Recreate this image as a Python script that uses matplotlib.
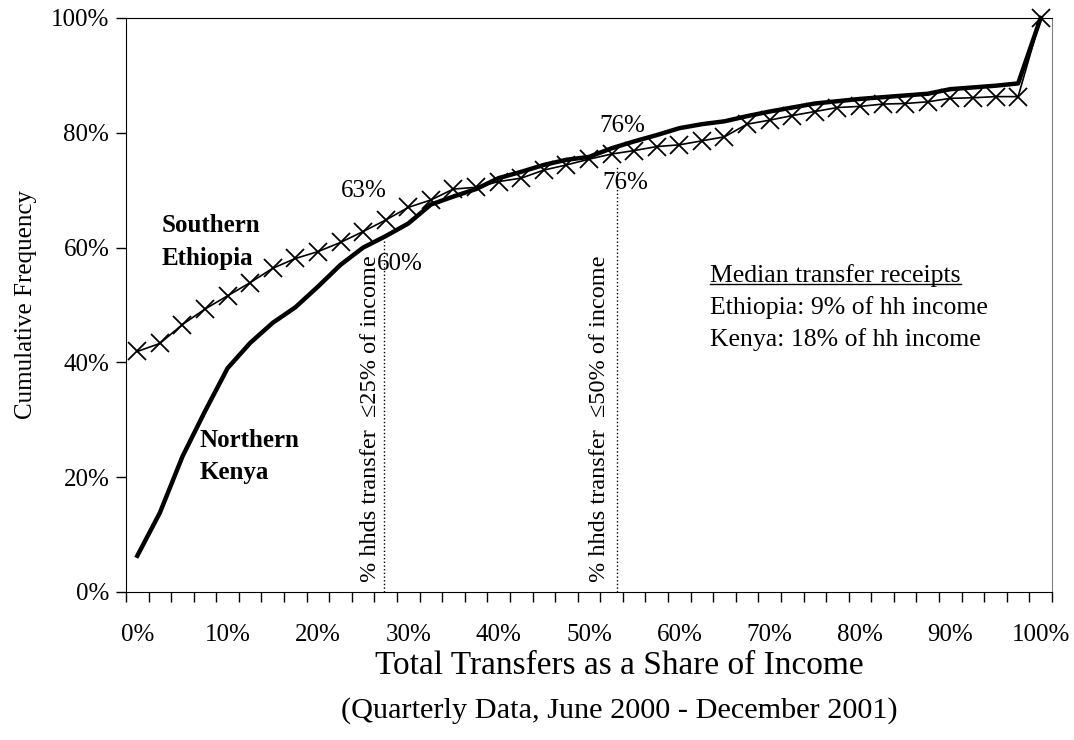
import matplotlib
matplotlib.use("Agg")
import matplotlib.pyplot as plt
from matplotlib.lines import Line2D

plt.rcParams["font.family"] = ["Liberation Serif", "DejaVu Serif"]

# Category axis: transfer share of income (2.5% steps)
share = [0, 2.5, 5, 7.5, 10, 12.5, 15, 17.5, 20, 22.5,
         25, 27.5, 30, 32.5, 35, 37.5, 40, 42.5, 45, 47.5,
         50, 52.5, 55, 57.5, 60, 62.5, 65, 67.5, 70, 72.5,
         75, 77.5, 80, 82.5, 85, 87.5, 90, 92.5, 95, 97.5, 100]

# Cumulative frequency (%)
kenya = [6.3, 13.8, 23.6, 31.5, 39.0, 43.4, 46.9, 49.6, 53.2, 57.0,
         60.0, 62.0, 64.2, 67.5, 68.9, 70.2, 72.1, 73.2, 74.4, 75.3,
         75.8, 77.3, 78.5, 79.6, 80.8, 81.5, 82.0, 82.9, 83.7, 84.4,
         85.1, 85.5, 85.9, 86.2, 86.5, 86.8, 87.6, 87.9, 88.2, 88.6, 100.0]

ethiopia = [41.9, 43.3, 46.6, 49.3, 51.6, 53.9, 56.4, 58.1, 59.3, 60.9,
            62.8, 64.8, 67.0, 68.3, 70.2, 70.5, 71.5, 72.1, 73.5, 74.4,
            75.4, 76.3, 76.9, 77.6, 77.9, 78.6, 79.3, 81.5, 82.2, 83.0,
            83.7, 84.4, 84.6, 85.0, 85.1, 85.4, 86.0, 86.1, 86.3, 86.3, 100.0]

tick_labels = ["0%", "10%", "20%", "30%", "40%", "50%",
               "60%", "70%", "80%", "90%", "100%"]
y_ticks = [0, 20, 40, 60, 80, 100]

FS = 18

fig = plt.figure(figsize=(10.74, 7.4), dpi=100)
ax = fig.add_axes([0.1173, 0.2, 0.8622, 0.7757])

ax.plot(share, kenya, color="black", lw=3.2, solid_joinstyle="round",
        clip_on=False)
ax.plot(share, ethiopia, color="black", lw=1.2, marker="x",
        markersize=12.5, markeredgewidth=1.3, clip_on=False)

step = share[1] - share[0]
ax.set_xlim(share[0] - step / 2, share[-1] + step / 2)
ax.set_ylim(0, 100)

# ticks between categories, labels every 4th category
bounds = [s - step / 2 for s in share] + [share[-1] + step / 2]
ax.set_xticks(bounds, minor=True)
ax.set_xticks(share[::4], tick_labels)
ax.tick_params(axis="x", which="major", length=0, pad=23, labelsize=FS)
ax.tick_params(axis="x", which="minor", length=7, width=1, direction="out")
ax.set_yticks(y_ticks, [f"{v}%" for v in y_ticks])
ax.tick_params(axis="y", length=7, width=1, pad=5, labelsize=FS)

for s in ["left", "bottom", "top"]:
    ax.spines[s].set_color("black")
ax.spines["right"].set_color("gray")

ax.set_ylabel("Cumulative Frequency", fontsize=FS, labelpad=10)

fig.text(0.577, 0.100, "Total Transfers as a Share of Income",
         ha="center", va="center", fontsize=24)
fig.text(0.577, 0.040, "(Quarterly Data, June 2000 - December 2001)",
         ha="center", va="center", fontsize=21.8)

# threshold lines
ax.plot([27.3, 27.3], [0, 61.1], color="black", lw=1, ls=":")
ax.plot([53.1, 53.1], [0, 74.1], color="black", lw=1, ls=":")
ax.text(25.8, 1.7, "% hhds transfer  \u226425% of income", rotation=90,
        ha="center", va="bottom", fontsize=17.5)
ax.text(51.2, 1.7, "% hhds transfer  \u226450% of income", rotation=90,
        ha="center", va="bottom", fontsize=17.5)

ax.text(25.1, 69.9, "63%", ha="center", va="center", fontsize=FS)
ax.text(29.1, 57.1, "60%", ha="center", va="center", fontsize=FS)
ax.text(53.65, 81.1, "76%", ha="center", va="center", fontsize=FS)
ax.text(54.0, 71.3, "76%", ha="center", va="center", fontsize=FS)

ax.text(2.75, 60.9, "Southern\nEthiopia", ha="left", va="center",
        fontsize=FS, fontweight="bold", linespacing=1.55)
ax.text(6.9, 23.6, "Northern\nKenya", ha="left", va="center",
        fontsize=FS, fontweight="bold", linespacing=1.55)

head = ax.text(63.45, 55.2, "Median transfer receipts", ha="left",
               va="center", fontsize=18.5)
ax.text(63.45, 49.5, "Ethiopia: 9% of hh income", ha="left",
        va="center", fontsize=18.5)
ax.text(63.45, 43.9, "Kenya: 18% of hh income", ha="left",
        va="center", fontsize=18.5)

# underline the heading
fig.canvas.draw()
bb = head.get_window_extent().transformed(fig.transFigure.inverted())
fig.add_artist(Line2D([bb.x0, bb.x1], [bb.y0 + 0.004, bb.y0 + 0.004],
                      color="black", lw=1, transform=fig.transFigure))

fig.savefig("out.png", dpi=100)
